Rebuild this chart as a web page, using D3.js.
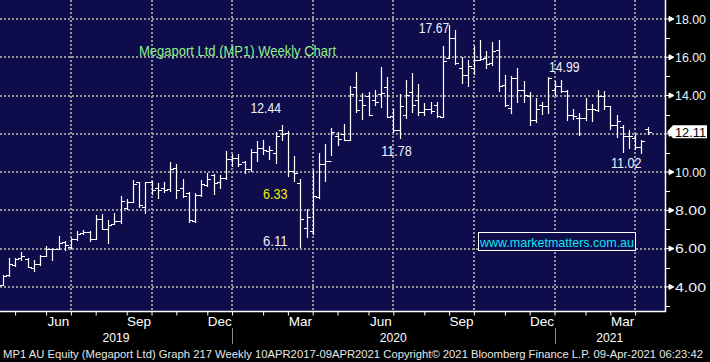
<!DOCTYPE html>
<html>
<head>
<meta charset="utf-8">
<script src="https://cdn.jsdelivr.net/npm/d3@7"></script>
<style>
  body { margin: 0; background: #000; }
  svg { display: block; font-family: "Liberation Sans", Arial, sans-serif; }
</style>
</head>
<body>
<svg id="chart" width="710" height="362"></svg>
<script>
// weekly OHLC, MP1 AU, 12 Apr 2019 .. 9 Apr 2021 (one bar per Friday)
var opens = [4.12, 4.60, 5.12, 5.50, 5.48, 5.00, 5.20, 5.62, 5.96, 6.00, 6.34, 6.10, 6.52, 6.80, 6.87,
  6.52, 7.53, 7.04, 7.26, 7.43, 8.14, 8.46, 9.50, 8.20, 9.47, 9.17, 9.17, 9.12, 10.23, 9.17,
  8.90, 7.45, 8.82, 9.30, 9.82, 9.50, 9.68, 10.66, 10.75, 10.54, 10.14, 11.06, 11.27, 11.10, 11.00,
  12.20, 12.05, 10.05, 9.44, 7.10, 6.90, 8.70, 10.40, 10.60, 11.90, 12.00, 11.70, 14.43, 13.74, 14.00,
  13.74, 14.09, 14.43, 12.95, 12.20, 13.00, 14.20, 13.77, 13.16, 13.30, 13.50, 12.90, 15.97, 17.03, 15.45,
  15.08, 15.45, 15.88, 15.95, 15.70, 16.40, 14.56, 13.37, 14.90, 14.29, 14.00, 12.72, 13.49, 13.45, 14.31,
  14.48, 14.22, 12.97, 12.85, 12.80, 13.30, 13.24, 13.97, 13.45, 12.45, 12.33, 11.90, 11.80, 11.30, 12.24];
var highs = [4.61, 5.53, 5.53, 5.81, 5.50, 5.39, 5.65, 6.12, 6.03, 6.64, 6.38, 6.56, 6.90, 6.96, 6.90,
  7.74, 7.79, 7.48, 7.88, 8.76, 8.58, 9.59, 9.50, 9.47, 9.52, 9.42, 9.47, 10.53, 10.41, 9.65,
  8.97, 8.88, 9.61, 9.95, 9.92, 9.82, 11.10, 10.92, 10.92, 10.57, 11.18, 11.62, 11.65, 11.36, 12.10,
  12.44, 12.14, 10.83, 9.62, 8.05, 10.10, 11.00, 11.45, 12.29, 12.09, 12.52, 14.49, 15.25, 14.14, 14.17,
  14.31, 15.48, 14.96, 13.30, 14.10, 14.80, 15.16, 14.60, 13.60, 13.66, 13.68, 16.60, 17.67, 17.40, 16.00,
  15.83, 16.60, 16.90, 16.30, 16.80, 16.90, 15.08, 15.03, 15.45, 14.77, 14.17, 13.88, 13.66, 14.99, 14.74,
  14.79, 14.28, 13.28, 13.07, 13.88, 13.53, 14.31, 14.22, 13.45, 12.97, 12.45, 12.19, 11.98, 11.69, 12.38];
var lows = [4.09, 4.58, 5.10, 5.43, 5.04, 4.83, 5.13, 5.60, 5.39, 5.96, 5.95, 6.05, 6.43, 6.78, 6.40,
  6.52, 7.04, 6.30, 7.26, 7.34, 8.05, 8.41, 8.20, 7.84, 8.85, 8.64, 8.94, 9.03, 8.64, 8.70,
  7.40, 7.40, 8.76, 9.29, 8.85, 9.17, 9.65, 10.31, 10.31, 9.97, 10.05, 10.57, 10.92, 10.66, 10.49,
  11.70, 9.79, 9.53, 6.11, 6.60, 6.75, 8.66, 9.55, 10.90, 11.39, 11.70, 11.70, 13.13, 12.78, 12.96,
  13.48, 13.39, 12.87, 12.10, 11.78, 12.83, 13.16, 12.98, 12.98, 13.06, 12.89, 12.89, 15.97, 15.66, 14.63,
  14.51, 15.10, 15.83, 15.45, 15.60, 14.26, 13.44, 13.06, 13.66, 13.66, 12.46, 12.63, 13.02, 13.07, 14.05,
  14.17, 12.72, 12.76, 11.93, 12.72, 12.67, 13.19, 13.28, 12.24, 11.81, 11.07, 11.24, 11.20, 11.02, 11.98];
var closes = [4.57, 5.17, 5.48, 5.60, 5.06, 5.20, 5.60, 5.96, 5.98, 6.31, 6.20, 6.52, 6.78, 6.85, 6.52,
  7.53, 7.04, 7.22, 7.43, 8.50, 8.46, 9.35, 8.30, 9.47, 9.06, 9.06, 9.06, 10.18, 9.08, 8.75,
  7.52, 8.82, 9.38, 9.65, 9.42, 9.68, 10.66, 10.71, 10.43, 10.14, 11.06, 11.27, 11.13, 11.13, 11.88,
  11.98, 10.05, 9.96, 7.53, 7.65, 8.75, 10.40, 10.60, 12.10, 11.74, 11.70, 14.09, 13.22, 13.48, 13.00,
  13.65, 14.14, 12.87, 12.20, 13.45, 14.03, 13.50, 13.16, 13.30, 13.20, 12.95, 15.80, 17.03, 15.71, 15.08,
  15.54, 15.88, 15.93, 15.66, 16.30, 14.50, 13.49, 14.90, 14.30, 14.05, 12.72, 13.32, 13.45, 14.90, 14.48,
  14.22, 12.97, 12.93, 12.80, 13.28, 13.31, 13.97, 13.45, 12.45, 12.67, 11.90, 11.86, 11.29, 11.64, 12.11];

var yTickValues = [4, 6, 8, 10, 12, 14, 16, 18];
var yMinorValues = [3, 5, 7, 9, 11, 13, 15, 17];
var lastPrice = 12.11;

var annoBars = [72, 45, 64, 88, 103, 48, 48];
var annoLabels = ["17.67", "12.44", "11.78", "14.99", "11.02", "6.33", "6.11"];
var annoColors = ["#eef2ff", "#eef2ff", "#eef2ff", "#eef2ff", "#eef2ff", "#f0f000", "#eef2ff"];
// label offsets from the bar (dx, dy of the text centre)
var annoOffsets = [[-15, 3], [-16, -17], [-3, 13], [16, -10], [-15, 10], [-25, -48], [-25, -6]];

var titleText = "Megaport Ltd (MP1) Weekly Chart";
var footerText = "MP1 AU Equity (Megaport Ltd) Graph 217  Weekly 10APR2017-09APR2021 Copyright\u00a9 2021 Bloomberg Finance L.P. 09-Apr-2021 06:23:42";
var siteText = "www.marketmatters.com.au";

var plotRight = 665, plotBottom = 311;
var navy = "#0e0c4b";
var gridColor = "#969696";

var weeks = d3.timeFriday.range(new Date(2019, 3, 12), new Date(2021, 3, 10));
var bars = weeks.map(function(d, i) {
  return {date: d, o: opens[i], h: highs[i], l: lows[i], c: closes[i]};
});

var x = d3.scaleTime().domain([weeks[0], weeks[weeks.length - 1]]).range([2.7, 647.5]);
var y = d3.scaleLinear().domain([2.74, 18.99]).range([plotBottom, 0]);

function px(v) { return Math.round(v) + 0.5; }

var svg = d3.select("#chart");

svg.append("rect").attr("width", 710).attr("height", 362).attr("fill", "#000");
svg.append("rect").attr("width", plotRight).attr("height", plotBottom).attr("fill", navy);

// month ends = last Friday in each month (Bloomberg puts the period mark there)
var months = d3.timeMonth.range(new Date(2019, 3, 1), new Date(2021, 3, 1));
var monthEnds = months.map(function(m) {
  return d3.timeFriday.floor(d3.timeDay.offset(d3.timeMonth.offset(m, 1), -1));
});
var quarterIdx = [];
months.forEach(function(m, i) { if (m.getMonth() % 3 == 2) quarterIdx.push(i); });

// grid
var grid = svg.append("g").attr("class", "grid");
grid.selectAll("line.h")
  .data(yTickValues)
  .enter().append("line")
  .attr("x1", 0).attr("x2", plotRight)
  .attr("y1", function(d) { return Math.round(y(d)); })
  .attr("y2", function(d) { return Math.round(y(d)); })
  .attr("stroke", gridColor).attr("stroke-width", 2).attr("stroke-dasharray", "2,2");
grid.selectAll("line.v")
  .data(quarterIdx)
  .enter().append("line")
  .attr("x1", function(i) { return Math.round(x(monthEnds[i])); })
  .attr("x2", function(i) { return Math.round(x(monthEnds[i])); })
  .attr("y1", 0).attr("y2", plotBottom)
  .attr("stroke", gridColor).attr("stroke-width", 2).attr("stroke-dasharray", "2,2");

// title
svg.append("text")
  .attr("x", 139).attr("y", 55.5)
  .attr("font-size", 14)
  .attr("textLength", 197).attr("lengthAdjust", "spacingAndGlyphs")
  .attr("fill", "#8ef08a")
  .text(titleText);

// watermark box
svg.append("rect")
  .attr("x", 478.5).attr("y", 232.5).attr("width", 157).attr("height", 18)
  .attr("fill", navy).attr("stroke", "#ffffff").attr("stroke-width", 1);
svg.append("text")
  .attr("x", 480).attr("y", 246.5)
  .attr("font-size", 13.5)
  .attr("textLength", 154).attr("lengthAdjust", "spacingAndGlyphs")
  .attr("fill", "#10e4f4")
  .text(siteText);

// OHLC bars
svg.append("g").attr("class", "bars")
  .selectAll("path")
  .data(bars)
  .enter().append("path")
  .attr("d", function(d) {
    var bx = px(x(d.date));
    var p = "M" + bx + "," + Math.round(y(d.h)) + "V" + (Math.round(y(d.l)) + 1);
    p += "M" + (bx - 3.5) + "," + px(y(d.o)) + "H" + bx;
    p += "M" + bx + "," + px(y(d.c)) + "H" + (bx + 3.5);
    return p;
  })
  .attr("fill", "none")
  .attr("stroke", "#ffffff")
  .attr("stroke-width", 1.2);

// annotations
svg.append("g").attr("class", "anno")
  .selectAll("text")
  .data(annoBars)
  .enter().append("text")
  .attr("x", function(b, i) { return x(weeks[b]) + annoOffsets[i][0]; })
  .attr("y", function(b, i) { return y(+annoLabels[i]) + annoOffsets[i][1] + 5; })
  .attr("text-anchor", "middle")
  .attr("font-size", 14)
  .attr("textLength", function(b, i) { return annoLabels[i].length == 5 ? 30.5 : 24.5; })
  .attr("lengthAdjust", "spacingAndGlyphs")
  .attr("fill", function(b, i) { return annoColors[i]; })
  .text(function(b, i) { return annoLabels[i]; });

// x axis
var xAxis = d3.axisBottom(x).tickValues(monthEnds).tickSize(4).tickSizeOuter(0).tickFormat("");
var gx = svg.append("g").attr("transform", "translate(0," + (plotBottom + 0.5) + ")").call(xAxis);
gx.select(".domain").remove();
gx.selectAll(".tick line").attr("stroke", "#ffffff");
svg.append("line")
  .attr("x1", 0).attr("x2", plotRight + 1)
  .attr("y1", plotBottom + 0.5).attr("y2", plotBottom + 0.5)
  .attr("stroke", "#ffffff").attr("stroke-width", 1.5);

svg.append("g").selectAll("text")
  .data(quarterIdx)
  .enter().append("text")
  .attr("x", function(i) { return (x(monthEnds[i - 1]) + x(monthEnds[i])) / 2; })
  .attr("y", 326)
  .attr("text-anchor", "middle")
  .attr("font-size", 13.5)
  .attr("fill", "#ffffff")
  .text(function(i) { return d3.timeFormat("%b")(months[i]); });

// year row
var decEnds = monthEnds.filter(function(d, i) { return months[i].getMonth() == 11; });
var yearEdges = [0].concat(decEnds.map(function(d) { return x(d); })).concat([plotRight]);
var years = ["2019", "2020", "2021"];
svg.append("g").selectAll("text")
  .data(years)
  .enter().append("text")
  .attr("x", function(d, i) { return (yearEdges[i] + yearEdges[i + 1]) / 2; })
  .attr("y", 341.5)
  .attr("text-anchor", "middle")
  .attr("font-size", 13.5)
  .attr("textLength", 27).attr("lengthAdjust", "spacingAndGlyphs")
  .attr("fill", "#ffffff")
  .text(function(d) { return d; });
svg.append("g").selectAll("line")
  .data(decEnds)
  .enter().append("line")
  .attr("x1", function(d) { return px(x(d)); })
  .attr("x2", function(d) { return px(x(d)); })
  .attr("y1", 328).attr("y2", 344)
  .attr("stroke", "#8a8a8a").attr("stroke-width", 1);

// right axis
svg.append("line")
  .attr("x1", plotRight + 0.5).attr("x2", plotRight + 0.5)
  .attr("y1", 0).attr("y2", plotBottom + 1)
  .attr("stroke", "#ffffff").attr("stroke-width", 1.5);

// the 12.00 label sits under the last-price tag, so it is left blank
var yAxis = d3.axisRight(y).tickValues(yTickValues).tickSize(0).tickPadding(10)
  .tickFormat(function(d) { return Math.abs(d - lastPrice) < 0.5 ? "" : d3.format(".2f")(d); });
var gy = svg.append("g").attr("transform", "translate(" + plotRight + ",0)").call(yAxis);
gy.select(".domain").remove();
gy.selectAll(".tick text")
  .attr("font-family", "Liberation Sans, Arial, sans-serif")
  .attr("font-size", 13.5)
  .attr("fill", "#eef2ff")
  .filter(function(d) { return Math.abs(d - lastPrice) >= 0.5; })
  .attr("textLength", 31).attr("lengthAdjust", "spacingAndGlyphs");
gy.selectAll(".tick").append("path")
  .attr("d", "M1,-0.5H4M4,-3L9,-0.5L4,2Z")
  .attr("fill", "#ffffff").attr("stroke", "#ffffff").attr("stroke-width", 1);

svg.append("g").selectAll("line")
  .data(yMinorValues)
  .enter().append("line")
  .attr("x1", plotRight).attr("x2", plotRight + 5)
  .attr("y1", function(d) { return px(y(d)); })
  .attr("y2", function(d) { return px(y(d)); })
  .attr("stroke", "#ffffff").attr("stroke-width", 1);

// last price tag
var ly = y(lastPrice);
svg.append("path")
  .attr("d", "M" + (plotRight + 2) + "," + ly + "L" + (plotRight + 8) + "," + (ly - 6.5) +
    "H707V" + (ly + 6.5) + "H" + (plotRight + 8) + "Z")
  .attr("fill", "#ffffff");
svg.append("text")
  .attr("x", 675).attr("y", ly + 5)
  .attr("font-size", 13.5)
  .attr("textLength", 31).attr("lengthAdjust", "spacingAndGlyphs")
  .attr("fill", "#000000")
  .text(d3.format(".2f")(lastPrice));

// footer
svg.append("text")
  .attr("x", 3).attr("y", 357.5)
  .attr("font-size", 10.5)
  .attr("textLength", 700).attr("lengthAdjust", "spacingAndGlyphs")
  .attr("fill", "#e6e6e6")
  .text(footerText);
</script>
</body>
</html>
